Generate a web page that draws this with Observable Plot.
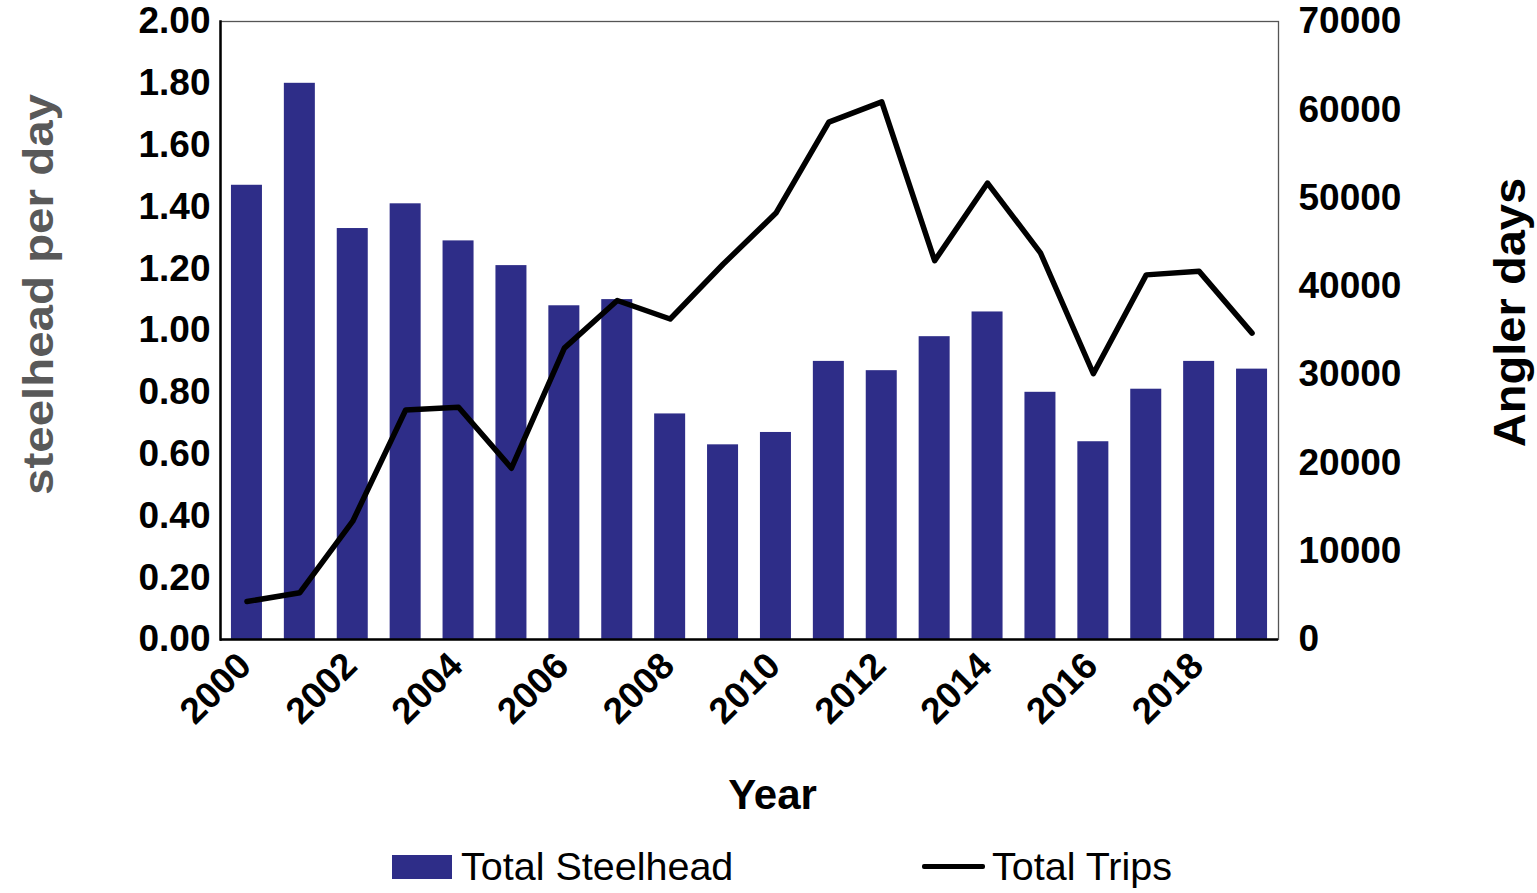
<!DOCTYPE html>
<html><head><meta charset="utf-8">
<script src="https://cdn.jsdelivr.net/npm/d3@7"></script>
<script src="https://cdn.jsdelivr.net/npm/@observablehq/plot@0.6"></script>
<style>
body{margin:0;background:#fff;font-family:"Liberation Sans",Arial,sans-serif;}
#wrap{position:relative;width:1537px;height:893px;overflow:hidden;}
.leg{position:absolute;height:40px;line-height:40px;font-size:39.5px;color:#000;white-space:nowrap;}
.sw{position:absolute;}
</style></head><body>
<div id="wrap"><div id="chart"></div>
<div class="sw" style="left:392px;top:855px;width:60px;height:24px;background:#2E2D88;"></div>
<div class="leg" style="left:461px;top:846px;">Total Steelhead</div>
<div class="sw" style="left:922px;top:864px;width:63px;height:5px;background:#000;border-radius:2px;"></div>
<div class="leg" style="left:992px;top:846px;">Total Trips</div>
</div>
<script>
const years = [2000,2001,2002,2003,2004,2005,2006,2007,2008,2009,2010,2011,2012,2013,2014,2015,2016,2017,2018,2019];
const steelheadPerDay = [1.47,1.80,1.33,1.41,1.29,1.21,1.08,1.10,0.73,0.63,0.67,0.90,0.87,0.98,1.06,0.80,0.64,0.81,0.90,0.875];
const anglerDays = [4300,5300,13400,26000,26300,19400,33000,38400,36300,42500,48300,58600,60900,42900,51700,43800,30100,41300,41700,34700];
const leftTicks = [0,0.2,0.4,0.6,0.8,1.0,1.2,1.4,1.6,1.8,2.0];
const rightTicks = [0,10000,20000,30000,40000,50000,60000,70000];
const xTickYears = [2000,2002,2004,2006,2008,2010,2012,2014,2016,2018];
const leftTitle = "steelhead per day";
const rightTitle = "Angler days";
const xTitle = "Year";

const rightMax = 70000, leftMax = 2;
const k = rightMax / leftMax;
const data = years.map((y, i) => ({year: y, spd: steelheadPerDay[i], trips: anglerDays[i]}));

const chart = Plot.plot({
  width: 1537,
  height: 830,
  marginLeft: 220,
  marginRight: 259,
  marginTop: 21,
  marginBottom: 191,
  style: {fontFamily: "'Liberation Sans', Arial, sans-serif", fontSize: "37px", fontWeight: "bold", color: "#000", background: "#fff"},
  x: {type: "band", domain: years, paddingInner: 0.414, paddingOuter: 0.207, round: false},
  y: {domain: [0, leftMax]},
  marks: [
    Plot.barY(data, {x: "year", y: "spd", fill: "#2E2D88"}),
    Plot.line(data, {x: "year", y: d => d.trips / k, stroke: "#000", strokeWidth: 5.5, strokeLinejoin: "round", strokeLinecap: "round"}),
    Plot.frame({stroke: "#555", strokeWidth: 1.3}),
    Plot.frame({anchor: "left", stroke: "#000", strokeWidth: 2.5}),
    Plot.ruleY([0], {stroke: "#000", strokeWidth: 2.5}),
    Plot.axisY(leftTicks, {anchor: "left", tickSize: 0, tickPadding: 10, tickFormat: d => d.toFixed(2), label: null}),
    Plot.axisY(rightTicks.map(v => v / k), {anchor: "right", tickSize: 0, tickPadding: 20, tickFormat: d => String(Math.round(d * k)), label: null}),
    Plot.axisX(xTickYears, {tickRotate: -45, tickSize: 0, tickPadding: 20, dx: -2, tickFormat: d => String(d), label: null}),
    Plot.text([leftTitle], {frameAnchor: "left", textAnchor: "middle", lineAnchor: "middle", dx: -181, dy: -36, rotate: -90, fontSize: 42, fontWeight: "bold", fill: "#595959"}),
    Plot.text([rightTitle], {frameAnchor: "right", textAnchor: "middle", lineAnchor: "middle", dx: 232, dy: -18, rotate: -90, fontSize: 44, fontWeight: "bold", fill: "#000"}),
    Plot.text([xTitle], {frameAnchor: "bottom", textAnchor: "middle", lineAnchor: "middle", dx: 23, dy: 156, fontSize: 42, fontWeight: "bold", fill: "#000"})
  ]
});
d3.select(chart).selectAll("text").each(function() {
  const t = this.getAttribute("transform") || "";
  if (this.textContent === leftTitle) this.setAttribute("transform", t + " scale(1.13,1)");
  if (this.textContent === rightTitle) this.setAttribute("transform", t + " scale(1.07,1)");
});
document.getElementById("chart").appendChild(chart);
</script>
</body></html>
